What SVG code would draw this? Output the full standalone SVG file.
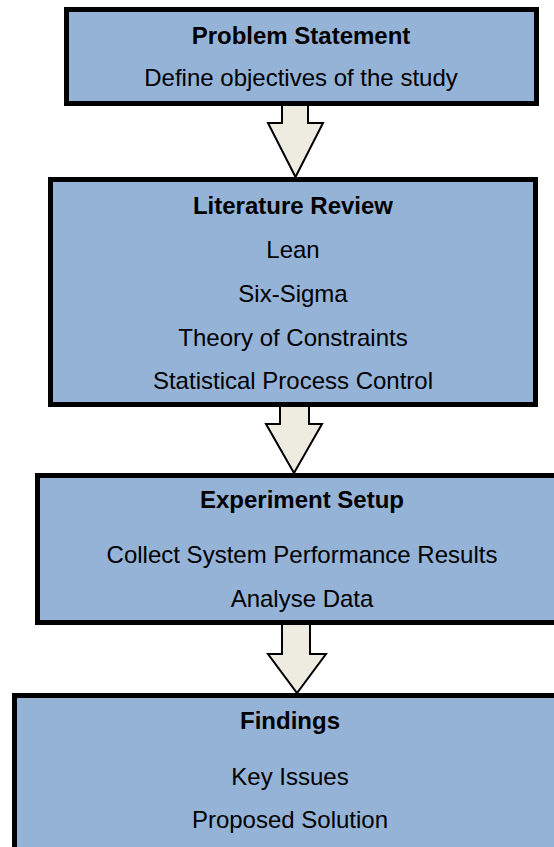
<svg xmlns="http://www.w3.org/2000/svg" width="554" height="847" viewBox="0 0 554 847">
  <style>
    .box { fill: #95B3D7; stroke: #000; stroke-width: 5; }
    .arrow { fill: #EEECE1; stroke: #000; stroke-width: 2; stroke-linejoin: miter; }
    text { font-family: "Liberation Sans", Arial, sans-serif; font-size: 24px; fill: #000; text-anchor: middle; }
    .title { font-weight: bold; }
  </style>
  <rect width="554" height="847" fill="#fff"/>

  <g id="problem-statement">
    <rect class="box" x="66.5" y="9.5" width="470" height="94"/>
    <text class="title" x="301" y="44">Problem Statement</text>
    <text x="301" y="86">Define objectives of the study</text>
  </g>

  <g id="literature-review">
    <rect class="box" x="50.5" y="179.5" width="485" height="225"/>
    <text class="title" x="293" y="214">Literature Review</text>
    <text x="293" y="258">Lean</text>
    <text x="293" y="302">Six-Sigma</text>
    <text x="293" y="346">Theory of Constraints</text>
    <text x="293" y="389">Statistical Process Control</text>
  </g>

  <g id="experiment-setup">
    <rect class="box" x="37.5" y="475.5" width="530" height="147"/>
    <text class="title" x="302" y="508">Experiment Setup</text>
    <text x="302" y="563">Collect System Performance Results</text>
    <text x="302" y="607">Analyse Data</text>
  </g>

  <g id="findings">
    <rect class="box" x="14.5" y="695.5" width="560" height="170"/>
    <text class="title" x="290" y="729">Findings</text>
    <text x="290" y="785">Key Issues</text>
    <text x="290" y="828">Proposed Solution</text>
  </g>

  <g id="connectors">
    <polygon class="arrow" points="282,105 308,105 308,123 323,123 295.5,177 268,123 282,123"/>
    <polygon class="arrow" points="280,406 309,406 309,424 322,424 294,473 266,424 280,424"/>
    <polygon class="arrow" points="282,624 310,624 310,654 326,654 297,693 268,654 282,654"/>
  </g>
</svg>
